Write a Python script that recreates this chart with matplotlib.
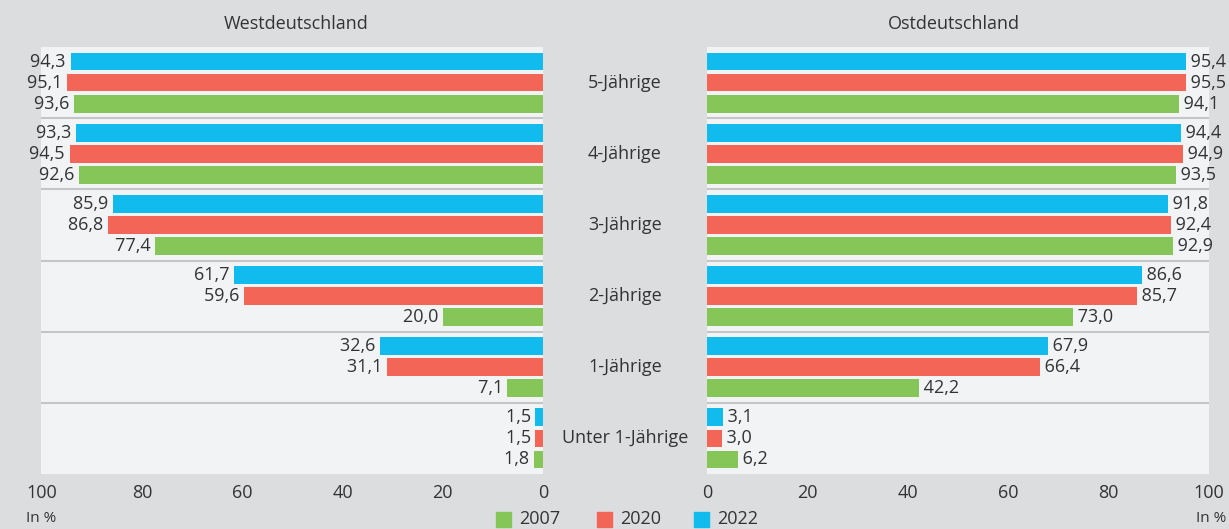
import numpy as np
import matplotlib.pyplot as plt

plt.rcParams['font.family'] = ['Open Sans', 'DejaVu Sans']

# Betreuungsquoten nach Altersjahren, in %
ages = ['5-Jährige', '4-Jährige', '3-Jährige', '2-Jährige', '1-Jährige', 'Unter 1-Jährige']
years = ['2007', '2020', '2022']

west_2007 = [93.6, 92.6, 77.4, 20.0, 7.1, 1.8]
west_2020 = [95.1, 94.5, 86.8, 59.6, 31.1, 1.5]
west_2022 = [94.3, 93.3, 85.9, 61.7, 32.6, 1.5]

ost_2007 = [94.1, 93.5, 92.9, 73.0, 42.2, 6.2]
ost_2020 = [95.5, 94.9, 92.4, 85.7, 66.4, 3.0]
ost_2022 = [95.4, 94.4, 91.8, 86.6, 67.9, 3.1]

colors = {'2007': '#86c557', '2020': '#f26557', '2022': '#12bbee'}
bg = '#dcdddf'
panel = '#f2f3f5'
text_col = '#333333'
fs = 13

fig = plt.figure(figsize=(12.29, 5.29), dpi=100, facecolor=bg)

W, H = 1229, 529
top, bottom = 47, 474


def make_ax(x0, x1):
    return fig.add_axes([x0 / W, 1 - bottom / H, (x1 - x0) / W, (bottom - top) / H])


ax_w = make_ax(41, 543)
ax_o = make_ax(707, 1209)

y = np.arange(len(ages))
off = 0.296
h = 0.25


def draw(ax, series, left):
    ax.set_facecolor(panel)
    # 2022 oben, 2007 unten (y-Achse ist umgedreht)
    for (yr, vals), dy in zip(series, [-off, 0, off]):
        ax.barh(y + dy, vals, height=h, color=colors[yr], zorder=2)
        for yi, v in zip(y, vals):
            label = f'{v:.1f}'.replace('.', ',')
            ax.text(v, yi + dy, (label + ' ') if left else (' ' + label),
                    ha='right' if left else 'left', va='center', fontsize=fs, color=text_col)
    for b in np.arange(0.5, len(ages) - 1, 1.0):
        ax.axhline(b, color='#c4c5c8', lw=1.5, zorder=1)
    ax.set_ylim(len(ages) - 0.5, -0.5)
    if left:
        ax.set_xlim(100.2, 0)
    else:
        ax.set_xlim(0, 100)
    ax.set_xticks([0, 20, 40, 60, 80, 100])
    ax.tick_params(axis='x', length=0, labelsize=fs, labelcolor=text_col, pad=7)
    ax.set_yticks([])
    for s in ax.spines.values():
        s.set_visible(False)


draw(ax_w, [('2022', west_2022), ('2020', west_2020), ('2007', west_2007)], True)
draw(ax_o, [('2022', ost_2022), ('2020', ost_2020), ('2007', ost_2007)], False)

# Überschriften und Altersgruppen in der Mitte
fig.text(296 / W, 1 - 24 / H, 'Westdeutschland', ha='center', va='center', fontsize=fs, color=text_col)
fig.text(954 / W, 1 - 24 / H, 'Ostdeutschland', ha='center', va='center', fontsize=fs, color=text_col)
for i, a in enumerate(ages):
    yc = top + (i + 0.5) * (bottom - top) / len(ages)
    fig.text(625 / W, 1 - yc / H, a, ha='center', va='center', fontsize=fs, color=text_col)

fig.text(26 / W, 1 - 519 / H, 'In %', ha='left', va='center', fontsize=11, color=text_col)
fig.text(1226 / W, 1 - 519 / H, 'In %', ha='right', va='center', fontsize=11, color=text_col)

# Legende
for yr, xs in zip(years, [496, 597, 694]):
    fig.patches.append(plt.Rectangle((xs / W, 1 - 527 / H), 15 / W, 15 / H,
                                     transform=fig.transFigure, color=colors[yr], figure=fig))
    fig.text((xs + 23) / W, 1 - 519 / H, yr, ha='left', va='center', fontsize=fs, color=text_col)

fig.savefig('out.png', dpi=100, facecolor=bg)
